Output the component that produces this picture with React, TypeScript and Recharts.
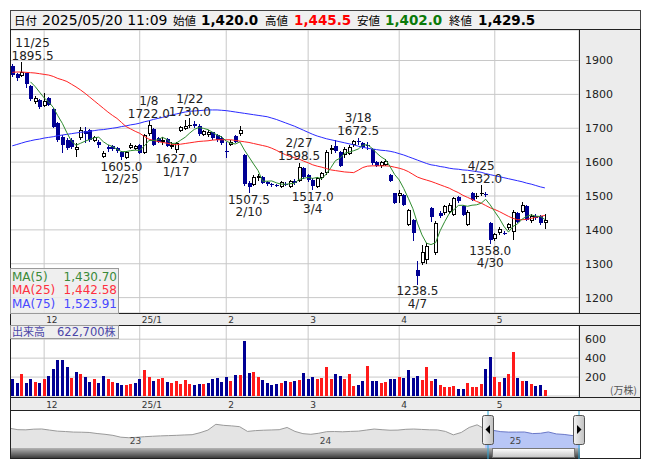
import React from "react";
import {
  ComposedChart,
  Bar,
  Line,
  XAxis,
  YAxis,
  CartesianGrid,
  Cell,
  ReferenceDot,
  AreaChart,
  Area,
  ReferenceLine,
} from "recharts";

const FONT = "'DejaVu Sans', Verdana, sans-serif";
const JP = "'Noto Sans CJK JP', 'DejaVu Sans', sans-serif";
const DOWN = "#000094";
const VOL_UP = "#ff1a1a";
const GRID = "#c8c8c8";
const BAND = "#ececec";

// daily sessions, 2024/11/21 .. 2025/05/20
const dates = [
  "11/21", "11/22", "11/25", "11/26", "11/27", "11/28", "11/29",
  "12/2", "12/3", "12/4", "12/5", "12/6", "12/9", "12/10", "12/11", "12/12", "12/13",
  "12/16", "12/17", "12/18", "12/19", "12/20", "12/23", "12/24", "12/25", "12/26", "12/27", "12/30",
  "1/6", "1/7", "1/8", "1/9", "1/10", "1/14", "1/15", "1/16", "1/17", "1/20", "1/21", "1/22",
  "1/23", "1/24", "1/27", "1/28", "1/29", "1/30", "1/31",
  "2/3", "2/4", "2/5", "2/6", "2/7", "2/10", "2/12", "2/13", "2/14", "2/17", "2/18", "2/19",
  "2/20", "2/21", "2/25", "2/26", "2/27", "2/28",
  "3/3", "3/4", "3/5", "3/6", "3/7", "3/10", "3/11", "3/12", "3/13", "3/14", "3/17", "3/18",
  "3/19", "3/21", "3/24", "3/25", "3/26", "3/27", "3/28", "3/31",
  "4/1", "4/2", "4/3", "4/4", "4/7", "4/8", "4/9", "4/10", "4/11", "4/14", "4/15", "4/16",
  "4/17", "4/18", "4/21", "4/22", "4/23", "4/24", "4/25", "4/28", "4/30",
  "5/1", "5/2", "5/7", "5/8", "5/9", "5/12", "5/13", "5/14", "5/15", "5/16", "5/19", "5/20",
];

const open = [
  1885, 1860, 1855, 1862, 1826, 1777, 1784, 1766, 1788, 1756, 1715, 1675, 1666, 1666, 1636, 1670, 1692,
  1695, 1661, 1660, 1616, 1645, 1648, 1642, 1630, 1612, 1641, 1640, 1650, 1628, 1682, 1698, 1670, 1658,
  1668, 1645, 1636, 1692, 1698, 1706, 1712, 1708, 1680, 1680, 1688, 1680, 1672, 1634, 1652, 1676, 1682,
  1620, 1538, 1533, 1552, 1557, 1540, 1534, 1532, 1528, 1536, 1528, 1545, 1543, 1582, 1562, 1548, 1528,
  1552, 1567, 1636, 1649, 1630, 1620, 1624, 1650, 1661, 1655, 1652, 1640, 1600, 1588, 1592, 1562, 1508,
  1500, 1503, 1415, 1428, 1282, 1302, 1310, 1464, 1331, 1449, 1449, 1452, 1444, 1496, 1469, 1415, 1508,
  1497, 1505, 1506, 1420, 1372, 1390, 1392, 1405, 1395, 1449, 1454, 1469, 1426, 1442, 1442, 1420,
];
const high = [
  1890, 1863, 1895.5, 1864, 1828, 1795, 1786, 1803, 1792, 1760, 1718, 1680, 1670, 1670, 1656, 1705, 1705,
  1698, 1676, 1664, 1632, 1652, 1652, 1645, 1634, 1633, 1655, 1652, 1654, 1684, 1722, 1700, 1674, 1675,
  1672, 1660, 1658, 1708, 1724, 1730, 1722, 1712, 1696, 1694, 1690, 1683, 1676, 1660, 1664, 1680, 1708,
  1625, 1545, 1562, 1565, 1560, 1545, 1538, 1536, 1544, 1540, 1548, 1550, 1598.5, 1585, 1566, 1552, 1556,
  1570, 1635, 1651, 1666, 1634, 1644, 1650, 1665, 1672.5, 1660, 1658, 1642, 1603, 1602, 1608, 1566, 1510,
  1518, 1506, 1462, 1432, 1307, 1356, 1360, 1468, 1425, 1455, 1472, 1478, 1496, 1500, 1472, 1458, 1512,
  1510, 1532, 1512, 1424, 1392, 1408, 1396, 1420, 1458, 1452, 1482, 1472, 1446, 1446, 1445, 1445.5,
];
const low = [
  1852, 1840, 1850, 1818, 1780, 1772, 1758, 1762, 1765, 1700, 1660, 1626, 1635, 1640, 1616, 1665, 1656,
  1660, 1658, 1641, 1612, 1630, 1632, 1628, 1605, 1608, 1638, 1636, 1624, 1625, 1678, 1648, 1655, 1652,
  1645, 1640, 1627, 1688, 1694, 1702, 1700, 1678, 1676, 1675, 1665, 1660, 1650, 1612, 1648, 1655, 1678,
  1530, 1507.5, 1530, 1545, 1535, 1530, 1528, 1526, 1524, 1530, 1525, 1532, 1540, 1550, 1540, 1517, 1524,
  1548, 1562, 1625, 1628, 1585, 1612, 1620, 1646, 1652, 1640, 1636, 1592, 1585, 1583, 1590, 1540, 1475,
  1480, 1470, 1410, 1366, 1238.5, 1297, 1300, 1422, 1325, 1436, 1445, 1448, 1440, 1480, 1440, 1410, 1484,
  1492, 1500, 1498, 1358, 1366, 1385, 1385, 1400, 1370, 1420, 1450, 1426, 1420, 1428, 1415, 1402,
];
const close = [
  1857, 1848, 1865, 1830, 1785, 1789, 1764, 1780, 1770, 1705, 1666, 1651, 1641, 1646, 1645, 1695, 1682,
  1666, 1673, 1652, 1628, 1638, 1640, 1633, 1615, 1630, 1651, 1648, 1628, 1680, 1711, 1651, 1660, 1664,
  1648, 1652, 1655, 1705, 1708, 1710, 1706, 1682, 1692, 1690, 1670, 1665, 1655, 1630, 1660, 1658, 1695,
  1535, 1528, 1557, 1560, 1538, 1535, 1532, 1530, 1540, 1535, 1544, 1538, 1587, 1557, 1548, 1530, 1552,
  1567, 1629, 1641, 1633, 1588, 1640, 1646, 1661, 1658, 1645, 1647, 1596, 1590, 1600, 1603, 1545, 1479,
  1510, 1474, 1459, 1392, 1265, 1336, 1351, 1439, 1420, 1442, 1469, 1472, 1493, 1485, 1444, 1454, 1488,
  1499, 1508, 1503, 1370, 1387, 1403, 1390, 1417, 1454, 1424, 1474, 1430, 1440, 1434, 1420, 1429.5,
];

// 出来高 (万株)
const volume = [
  184, 141, 233, 141, 184, 152, 141, 184, 212, 290, 382, 382, 307, 194, 254, 233, 201,
  152, 184, 141, 212, 184, 152, 141, 117, 117, 131, 138, 184, 276, 201, 159, 177, 191,
  152, 138, 159, 131, 170, 131, 117, 124, 131, 138, 184, 194, 152, 201, 159, 223, 223,
  584, 244, 254, 201, 170, 141, 120, 131, 138, 159, 148, 159, 170, 244, 184, 201, 184,
  191, 307, 184, 230, 212, 184, 230, 106, 117, 159, 318, 159, 159, 141, 148, 177, 184,
  201, 194, 276, 194, 212, 170, 307, 159, 183, 117, 95, 95, 106, 71, 78, 141, 99,
  99, 130, 289, 413, 201, 148, 194, 229, 469, 194, 159, 159, 123, 106, 117, 62.27,
];

const ma25 = [
  1865, 1866, 1866, 1865, 1864, 1863, 1861, 1859, 1857, 1853, 1847, 1843, 1838, 1830, 1822, 1813, 1803,
  1792, 1781, 1770, 1759, 1748, 1738, 1729, 1717, 1705, 1698, 1691, 1685, 1676, 1668, 1664, 1661, 1658,
  1656, 1653, 1651, 1653, 1655, 1657, 1659, 1661, 1662, 1663, 1665, 1666, 1666, 1666, 1666, 1664, 1662,
  1660, 1658, 1655, 1652, 1649, 1646, 1641, 1635, 1628, 1622, 1617, 1613, 1609, 1603, 1598, 1592, 1588,
  1585, 1581, 1577, 1575, 1573, 1571, 1570, 1569, 1576, 1584, 1588, 1589, 1589, 1589, 1589, 1588, 1585,
  1582, 1578, 1572, 1564, 1556, 1551, 1547, 1543, 1538, 1533, 1528, 1523, 1516, 1510, 1502, 1496, 1490,
  1484, 1479, 1472, 1465, 1460, 1454, 1447, 1440, 1434, 1430, 1430, 1431, 1434, 1437, 1440, 1442.58,
];
const ma75 = [
  1648, 1652, 1656, 1660, 1663, 1666, 1668, 1671, 1673, 1675, 1678, 1680, 1682, 1684, 1686, 1688, 1689,
  1691, 1693, 1695, 1696, 1698, 1700, 1702, 1705, 1707, 1710, 1712, 1715, 1719, 1722, 1726, 1729, 1732,
  1736, 1739, 1742, 1745, 1748, 1750, 1751, 1752, 1753, 1754, 1754, 1754, 1753, 1752, 1750, 1748, 1746,
  1744, 1742, 1740, 1738, 1736, 1734, 1730, 1726, 1721, 1716, 1711, 1706, 1700, 1694, 1688, 1682, 1677,
  1673, 1669, 1666, 1663, 1660, 1657, 1654, 1651, 1647, 1644, 1641, 1639, 1637, 1635, 1634, 1632, 1629,
  1625, 1621, 1616, 1611, 1606, 1601, 1596, 1592, 1590, 1587, 1585, 1582, 1580, 1579, 1577, 1576, 1574,
  1572, 1570, 1566, 1563, 1560, 1557, 1554, 1551, 1548, 1545, 1542, 1538, 1535, 1531, 1527, 1523.91,
];

const monthTicks = ["12/2", "1/6", "2/3", "3/3", "4/1", "5/1"];
const monthLabels = ["12", "25/1", "2", "3", "4", "5"];
const priceTicks = [1200, 1300, 1400, 1500, 1600, 1700, 1800, 1900];
const volumeTicks = [200, 400, 600];

// 高値・安値の吹き出し
const highMarks = ["11/25", "1/8", "1/22", "2/27", "3/18", "4/25"];
const lowMarks = ["12/25", "1/17", "2/10", "3/4", "4/7", "4/30"];

// 全期間チャート（半月ごと）
const NAV_START = 2022.375;
const NAV_SEL = 60;
const navValues = [
  1936, 1830, 1820, 1870, 1885, 1800, 1720, 1690, 1650, 1640, 1620, 1540, 1480, 1400, 1260, 1220,
  1250, 1300, 1330, 1360, 1380, 1400, 1430, 1450, 1600, 1800, 2240, 2160, 2120, 2060, 1700, 1760,
  1790, 1810, 1830, 2000, 1700, 1530, 1480, 1560, 1680, 1690, 1670, 1700, 1720, 1800, 1880, 1830,
  1790, 1800, 1860, 1880, 1850, 1820, 1810, 1700, 1440, 1620, 2000, 2200, 1880, 1780, 1682, 1648,
  1652, 1655, 1535, 1557, 1658, 1510, 1470, 1387, 1434,
];
const navYears = [2023, 2024, 2025];

const FUTURE = ["+1", "+2", "+3", "+4", "+5", "+6", "+7"];

const ma5 = close.map((_, i) =>
  i < 4 ? null : close.slice(i - 4, i + 1).reduce((a, b) => a + b, 0) / 5
);

const priceRows = [
  ...dates.map((date, i) => ({
    date,
    range: [low[i], high[i]],
    open: open[i],
    high: high[i],
    low: low[i],
    close: close[i],
    ma5: ma5[i],
    ma25: ma25[i],
    ma75: ma75[i],
  })),
  ...FUTURE.map((date) => ({ date })),
];

const volumeRows = [
  ...dates.map((date, i) => ({
    date,
    vol: volume[i],
    up: i === 0 ? close[0] >= open[0] : close[i] >= close[i - 1],
  })),
  ...FUTURE.map((date) => ({ date })),
];

const navRows = navValues.map((v, k) => ({
  t: NAV_START + k / 24,
  all: k <= NAV_SEL ? v : null,
  sel: k >= NAV_SEL ? v : null,
}));

const last = dates.length - 1;
const fmt = (v: number, d: number) =>
  v.toLocaleString("en-US", { minimumFractionDigits: d, maximumFractionDigits: d });

function Candle(props: any) {
  const { x, y, width, height, payload } = props;
  if (!payload || payload.open == null) return null;
  const { open: o, close: c, high: h, low: l } = payload;
  const top = Math.min(y, y + height);
  const bottom = Math.max(y, y + height);
  const py = (v: number) => top + ((h - v) / (h - l || 1)) * (bottom - top);
  const col = Math.floor(x + width / 2);
  const yHi = Math.round(top);
  const yLo = Math.round(bottom);
  const bTop = Math.round(py(Math.max(o, c)));
  const bBot = Math.round(py(Math.min(o, c)));
  if (c < o) {
    return (
      <g>
        <rect x={col} y={yHi} width={1} height={Math.max(yLo - yHi, 1)} fill={DOWN} />
        <rect x={col - 1} y={bTop} width={4} height={Math.max(bBot - bTop, 1)} fill={DOWN} />
      </g>
    );
  }
  return (
    <g>
      <rect x={col} y={yHi} width={1} height={Math.max(yLo - yHi, 1)} fill="#000" />
      {bBot - bTop < 2 ? (
        <rect x={col - 1} y={bTop} width={4} height={1} fill="#000" />
      ) : (
        <rect
          x={col - 0.5}
          y={bTop + 0.5}
          width={3}
          height={bBot - bTop - 1}
          fill="#fff"
          stroke="#000"
          strokeWidth={1}
        />
      )}
    </g>
  );
}

function VolumeBar(props: any) {
  const { x, y, width, height, payload } = props;
  if (!payload || payload.vol == null) return null;
  const col = Math.floor(x + width / 2);
  const top = Math.round(y);
  return (
    <rect
      x={col - 1}
      y={top}
      width={3}
      height={Math.max(Math.round(y + height) - top, 1)}
      fill={payload.up ? VOL_UP : DOWN}
    />
  );
}

function monthTick(dy: number) {
  return (props: any) => {
    const i = monthTicks.indexOf(props.payload.value);
    return (
      <text x={props.x + 2} y={props.y + dy} fontSize={9} fontFamily={FONT} fill="#333" textAnchor="start">
        {monthLabels[i]}
      </text>
    );
  };
}

function valueTick(props: any) {
  return (
    <text x={props.x + 4} y={props.y + 4} fontSize={11} fontFamily={FONT} fill="#222" textAnchor="start">
      {props.payload.value}
    </text>
  );
}

function markLabel(date: string, value: number, side: "high" | "low") {
  return (props: any) => {
    const vb = props.viewBox || { x: 0, y: 0, width: 0, height: 0 };
    const cx = vb.x + (vb.width || 0) / 2;
    const cy = vb.y + (vb.height || 0) / 2;
    const val = value.toFixed(1);
    const w = Math.max(val.length, date.length) * 7.2;
    const tx = Math.max(cx, w / 2 + 1);
    const rows = side === "high" ? [[date, cy - 15.5], [val, cy - 2.5]] : [[val, cy + 10.5], [date, cy + 23]];
    return (
      <g>
        {rows.map(([s, yy]) => (
          <text key={String(s)} x={tx} y={yy as number} fontSize={12} fontFamily={FONT} fill="#222" textAnchor="middle">
            {s}
          </text>
        ))}
      </g>
    );
  };
}

function yearLabel(text: string) {
  return (props: any) => {
    const vb = props.viewBox || { x: 0 };
    return (
      <text x={vb.x + 1} y={32.5} fontSize={9} fontFamily={FONT} fill="#444">
        {text}
      </text>
    );
  };
}

const box = (left: number, top: number, width: number, height: number, bg: string): React.CSSProperties => ({
  position: "absolute",
  left,
  top,
  width,
  height,
  background: bg,
});

export default function App() {
  const header: [string, number, string, boolean, string][] = [
    ["日付", 14, "#000", false, JP],
    ["2025/05/20 11:09", 42, "#000", false, FONT],
    ["始値", 173, "#000", false, JP],
    [fmt(open[last], 1), 201, "#000", true, FONT],
    ["高値", 265, "#000", false, JP],
    [fmt(high[last], 1), 294, "#ff0000", true, FONT],
    ["安値", 357, "#000", false, JP],
    [fmt(low[last], 1), 385, "#0a7a0a", true, FONT],
    ["終値", 449, "#000", false, JP],
    [fmt(close[last], 1), 478, "#000", true, FONT],
  ];
  const maRows: [string, number | null, string][] = [
    ["MA(5)", ma5[last], "#3a8a3a"],
    ["MA(25)", ma25[last], "#ff3040"],
    ["MA(75)", ma75[last], "#4848ff"],
  ];

  return (
    <div style={{ position: "absolute", left: 0, top: 0, width: 653, height: 470, background: "#fff", fontFamily: FONT, overflow: "hidden" }}>
      {/* axis strips */}
      <div style={box(580, 30, 60, 283, BAND)} />
      <div style={box(11, 314, 629, 11, BAND)} />
      <div style={box(580, 326, 60, 71, BAND)} />
      <div style={box(11, 398, 629, 12, BAND)} />

      <div style={{ position: "absolute", left: 10, top: 30 }}>
        <ComposedChart width={630} height={295} data={priceRows} margin={{ top: 0, right: 0, bottom: 0, left: 0 }}>
          <CartesianGrid stroke={GRID} />
          <XAxis
            dataKey="date"
            ticks={monthTicks}
            interval={0}
            height={12}
            tickSize={0}
            axisLine={false}
            tickLine={false}
            tick={monthTick(8)}
          />
          <YAxis
            orientation="right"
            width={61}
            domain={[1154.6, 1990]}
            ticks={priceTicks}
            interval={0}
            allowDataOverflow
            axisLine={false}
            tickLine={false}
            tickSize={0}
            tick={valueTick}
          />
          <Bar dataKey="range" shape={Candle} isAnimationActive={false} />
          <Line dataKey="ma75" stroke="#2a2aff" strokeWidth={1} dot={false} isAnimationActive={false} />
          <Line dataKey="ma25" stroke="#ff2222" strokeWidth={1} dot={false} isAnimationActive={false} />
          <Line dataKey="ma5" stroke="#2e8b2e" strokeWidth={1} dot={false} isAnimationActive={false} />
          {highMarks.map((d) => {
            const i = dates.indexOf(d);
            return (
              <ReferenceDot key={d} x={d} y={high[i]} r={1} fill="none" stroke="none" label={{ content: markLabel(d, high[i], "high") }} />
            );
          })}
          {lowMarks.map((d) => {
            const i = dates.indexOf(d);
            return (
              <ReferenceDot key={d} x={d} y={low[i]} r={1} fill="none" stroke="none" label={{ content: markLabel(d, low[i], "low") }} />
            );
          })}
        </ComposedChart>
      </div>

      <div style={{ position: "absolute", left: 10, top: 325 }}>
        <ComposedChart width={630} height={85} data={volumeRows} margin={{ top: 0, right: 0, bottom: 0, left: 0 }}>
          <CartesianGrid stroke={GRID} />
          <XAxis
            dataKey="date"
            ticks={monthTicks}
            interval={0}
            height={14}
            tickSize={0}
            axisLine={false}
            tickLine={false}
            tick={monthTick(9.5)}
          />
          <YAxis
            orientation="right"
            width={61}
            domain={[0, 750]}
            ticks={volumeTicks}
            interval={0}
            allowDataOverflow
            axisLine={false}
            tickLine={false}
            tickSize={0}
            tick={valueTick}
          />
          <Bar dataKey="vol" shape={VolumeBar} isAnimationActive={false}>
            {volumeRows.map((r: any) => (
              <Cell key={r.date} fill={r.up ? VOL_UP : DOWN} />
            ))}
          </Bar>
        </ComposedChart>
      </div>

      <div style={{ position: "absolute", left: 10, top: 411 }}>
        <AreaChart width={570} height={37} data={navRows} margin={{ top: 0, right: 0, bottom: 0, left: 0 }}>
          <XAxis dataKey="t" type="number" domain={[NAV_START, NAV_START + 3]} hide />
          <YAxis domain={[440, 3250]} hide allowDataOverflow />
          <Area dataKey="all" type="linear" stroke="#9a9a9a" fill="#e4e4e4" fillOpacity={1} isAnimationActive={false} />
          <Area dataKey="sel" type="linear" stroke="#6a78c8" fill="#b8c6f6" fillOpacity={1} isAnimationActive={false} />
          {navYears.map((yr) => (
            <ReferenceLine key={yr} x={yr} stroke="none" label={{ content: yearLabel(String(yr).slice(2)) }} />
          ))}
        </AreaChart>
      </div>

      <svg width={653} height={470} style={{ position: "absolute", left: 0, top: 0, pointerEvents: "none" }}>
        <defs>
          <linearGradient id="track" x1="0" y1="0" x2="0" y2="1">
            <stop offset="0" stopColor="#b4b4b4" />
            <stop offset="1" stopColor="#3c3c3c" />
          </linearGradient>
          <linearGradient id="thumb" x1="0" y1="0" x2="0" y2="1">
            <stop offset="0" stopColor="#ffffff" />
            <stop offset="1" stopColor="#c4c4c4" />
          </linearGradient>
          <linearGradient id="handle" x1="0" y1="0" x2="1" y2="0">
            <stop offset="0" stopColor="#f4f4f4" />
            <stop offset="1" stopColor="#c0c0c0" />
          </linearGradient>
        </defs>

        {/* header */}
        <rect x={10.5} y={10.5} width={630} height={19} fill="#f0f0f0" stroke="#444" />
        {header.map(([s, x, color, bold, family]) => (
          <text
            key={s + x}
            x={x}
            y={25}
            fontSize={family === JP ? 11.5 : bold ? 13.5 : 14}
            fontWeight={bold ? "bold" : "normal"}
            fontFamily={family}
            fill={color}
          >
            {s}
          </text>
        ))}

        {/* frame */}
        <rect x={10.5} y={29.5} width={630} height={429} fill="none" stroke="#222" />
        <line x1={10} x2={641} y1={313.5} y2={313.5} stroke="#222" />
        <line x1={10} x2={641} y1={325.5} y2={325.5} stroke="#222" />
        <line x1={10} x2={641} y1={397.5} y2={397.5} stroke="#222" />
        <line x1={10} x2={641} y1={410.5} y2={410.5} stroke="#222" />
        <line x1={579.5} x2={579.5} y1={30} y2={313} stroke="#222" />
        <line x1={579.5} x2={579.5} y1={326} y2={397} stroke="#222" />

        {/* MA legend */}
        <rect x={10.5} y={268.5} width={108} height={45} fill="rgba(236,236,236,0.85)" stroke="#9a9a9a" />
        {maRows.map(([name, v, color], k) => (
          <g key={name}>
            <text x={12} y={280.5 + k * 13.5} fontSize={12} fontFamily={FONT} fill={color}>
              {name}
            </text>
            <text x={117} y={280.5 + k * 13.5} fontSize={12} fontFamily={FONT} fill={color} textAnchor="end">
              {fmt(v as number, 2)}
            </text>
          </g>
        ))}

        {/* volume caption */}
        <rect x={10.5} y={325.5} width={108} height={13} fill="rgba(236,236,236,0.85)" stroke="#9a9a9a" />
        <text x={12} y={336} fontSize={11} fontFamily={JP} fill="#4b46a8">
          出来高
        </text>
        <text x={57} y={336} fontSize={11.5} fontFamily={FONT} fill="#4b46a8">
          {fmt(volume[last] * 10000, 0)}
          <tspan fontFamily={JP} fontSize={11}>株</tspan>
        </text>
        <text x={610} y={394} fontSize={10} fontFamily={JP} fill="#555">
          (万株)
        </text>

        {/* scrollbar */}
        <rect x={11} y={448} width={481} height={10} fill="url(#track)" />
        <rect x={575} y={448} width={5} height={10} fill="url(#track)" />
        <rect x={492.5} y={448.5} width={82} height={9} fill="url(#thumb)" stroke="#777" />
        <line x1={488} x2={488} y1={411} y2={459} stroke="#2aa8d8" />
        <line x1={579} x2={579} y1={411} y2={459} stroke="#2aa8d8" />
        <rect x={482.5} y={415.5} width={11} height={29} rx={2} fill="url(#handle)" stroke="#555" />
        <polygon points="485.5,429.5 490,425 490,434" fill="#000" />
        <rect x={573.5} y={415.5} width={11} height={29} rx={2} fill="url(#handle)" stroke="#555" />
        <polygon points="581.5,429.5 577,425 577,434" fill="#000" />
      </svg>
    </div>
  );
}
